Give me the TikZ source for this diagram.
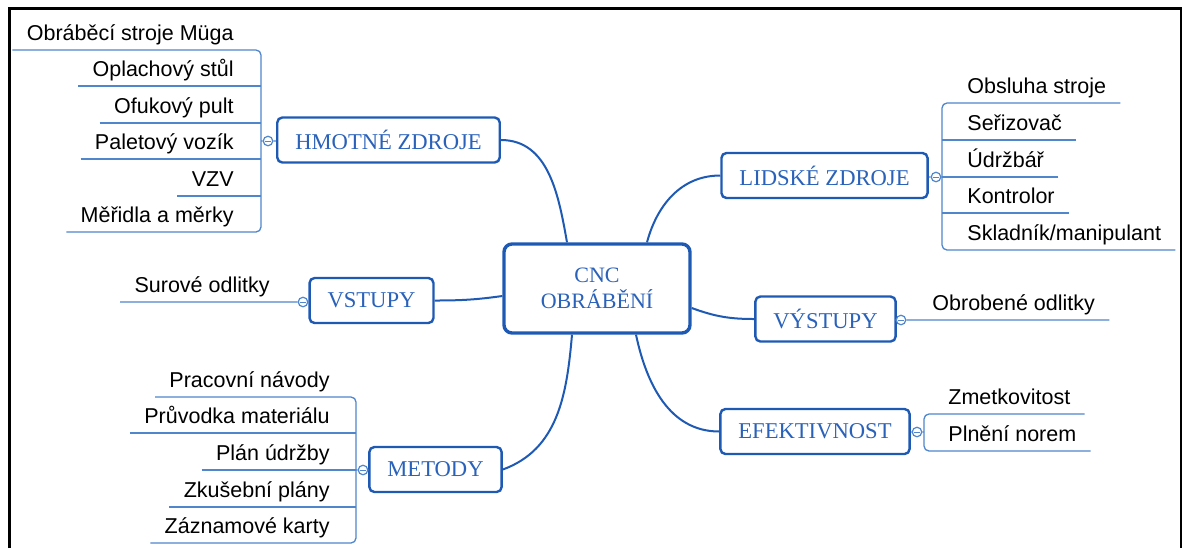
\documentclass[tikz,border=0pt]{standalone}
\usepackage{fontspec}
\setmainfont{Liberation Serif}
\newfontfamily\itemfont{Liberation Sans}
\usepackage{tikz}
\usepackage{xcolor}
\usetikzlibrary{positioning,calc}
\definecolor{MapBlue}{HTML}{1E5AB4}
\definecolor{MapText}{HTML}{2A62BA}
\definecolor{MapLine}{HTML}{4F86CC}
\tikzset{
    % Central topic style
    centernode/.style={
        draw=MapBlue,
        fill=white,
        line width=1.7pt,
        rounded corners=4pt,
        minimum width=93pt,
        minimum height=44.5pt,
        align=center,
        text=MapText,
        font=\fontsize{11}{13}\selectfont
    },
    % Main topic style
    topicnode/.style={
        draw=MapBlue,
        fill=white,
        line width=1.2pt,
        rounded corners=2.5pt,
        minimum height=22.5pt,
        inner xsep=9pt,
        text=MapText,
        font=\fontsize{11.3}{13}\selectfont
    },
    % Subtopic text, left side
    itemleft/.style={
        anchor=south east,
        inner xsep=7pt,
        inner ysep=4.5pt,
        text depth=0pt,
        font=\itemfont\fontsize{10.75}{13}\selectfont
    },
    % Subtopic text, right side
    itemright/.style={
        itemleft,
        anchor=south west
    },
    % Collapse mark
    foldmark/.style={
        circle,
        draw=MapLine,
        fill=white,
        line width=0.6pt,
        minimum size=4.75pt,
        inner sep=0pt,
        path picture={\draw[MapLine, line width=0.5pt]
            ([xshift=1pt]path picture bounding box.west) --
            ([xshift=-1pt]path picture bounding box.east);}
    },
    % Link from the centre
    mainlink/.style={
        draw=MapBlue,
        line width=1pt
    },
    % Subtopic line
    subline/.style={
        draw=MapLine,
        line width=0.65pt,
        rounded corners=2.5pt
    }
}

\begin{document}
\begin{tikzpicture}[x=0.5pt, y=-0.5pt]
    \useasboundingbox (0,0) rectangle (1183,548);
    % Frame
    \draw[line width=1.2pt] (9.5,548) -- (9.5,8.5) -- (1181,8.5) -- (1181,548);

    % Central and main topics
    \node[centernode] (cnc) at (597,288.5) {CNC\\OBRÁBĚNÍ};
    \node[topicnode] (hz) at (388.5,140) {HMOTNÉ ZDROJE};
    \node[topicnode] (lz) at (824.5,175.5) {LIDSKÉ ZDROJE};
    \node[topicnode] (vs) at (371.5,300.5) {VSTUPY};
    \node[topicnode] (vy) at (825.5,319) {VÝSTUPY};
    \node[topicnode] (me) at (435.5,469.5) {METODY};
    \node[topicnode] (ef) at (815,431.5) {EFEKTIVNOST};

    % Links from the centre
    \draw[mainlink] ([xshift=-15pt]cnc.north) to[out=100,in=0] (hz.east);
    \draw[mainlink] ([xshift=25pt]cnc.north) to[out=75,in=180] (lz.west);
    \draw[mainlink] ([yshift=-3.75pt]cnc.west) to[out=188,in=0] (vs.east);
    \draw[mainlink] ([yshift=-9.75pt]cnc.east) to[out=-20,in=180] (vy.west);
    \draw[mainlink] ([xshift=-12.5pt]cnc.south) to[out=-95,in=20] (me.east);
    \draw[mainlink] ([xshift=19.5pt]cnc.south) to[out=-78,in=180] (ef.west);

    % Hmotne zdroje
    \node[foldmark] (hzf) at (268,141) {};
    \coordinate (hzb) at (261,141);
    \node[itemleft] (hz1) at (248,50) {Obráběcí stroje Müga};
    \node[itemleft] (hz2) at (248,86) {Oplachový stůl};
    \node[itemleft] (hz3) at (248,123) {Ofukový pult};
    \node[itemleft] (hz4) at (248,159) {Paletový vozík};
    \node[itemleft] (hz5) at (248,196) {VZV};
    \node[itemleft] (hz6) at (248,232) {Měřidla a měrky};
    \draw[subline] (hz1.south west) -- (hz1.south west -| hzb) -- (hz6.south west -| hzb) -- (hz6.south west);
    \foreach \i in {2,...,5}
        \draw[subline] (hz\i.south west) -- (hz\i.south west -| hzb);
    \draw[subline] (hzb) -- (hzf) -- (hz);

    % Lidske zdroje
    \node[foldmark] (lzf) at (936,177) {};
    \coordinate (lzb) at (942,177);
    \node[itemright] (lz1) at (953,103) {Obsluha stroje};
    \node[itemright] (lz2) at (953,140) {Seřizovač};
    \node[itemright] (lz3) at (953,177) {Údržbář};
    \node[itemright] (lz4) at (953,213) {Kontrolor};
    \node[itemright] (lz5) at (953,250) {Skladník/manipulant};
    \draw[subline] (lz1.south east) -- (lz1.south east -| lzb) -- (lz5.south east -| lzb) -- (lz5.south east);
    \foreach \i in {2,...,4}
        \draw[subline] (lz\i.south east) -- (lz\i.south east -| lzb);
    \draw[subline] (lz) -- (lzf) -- (lzb);

    % Vstupy
    \node[foldmark] (vsf) at (303,302) {};
    \node[itemleft] (vs1) at (284,302) {Surové odlitky};
    \draw[subline] (vs1.south west) -- (vsf) -- (vs);

    % Vystupy
    \node[foldmark] (vyf) at (901,320) {};
    \node[itemright] (vy1) at (918,320) {Obrobené odlitky};
    \draw[subline] (vy) -- (vyf) -- (vy1.south east);

    % Metody
    \node[foldmark] (mef) at (363,470) {};
    \coordinate (meb) at (356,470);
    \node[itemleft] (me1) at (344,397) {Pracovní návody};
    \node[itemleft] (me2) at (344,433) {Průvodka materiálu};
    \node[itemleft] (me3) at (344,470) {Plán údržby};
    \node[itemleft] (me4) at (344,507) {Zkušební plány};
    \node[itemleft] (me5) at (344,543) {Záznamové karty};
    \draw[subline] (me1.south west) -- (me1.south west -| meb) -- (me5.south west -| meb) -- (me5.south west);
    \foreach \i in {2,...,4}
        \draw[subline] (me\i.south west) -- (me\i.south west -| meb);
    \draw[subline] (meb) -- (mef) -- (me);

    % Efektivnost
    \node[foldmark] (eff) at (917,432) {};
    \coordinate (efb) at (924,432);
    \node[itemright] (ef1) at (934,414) {Zmetkovitost};
    \node[itemright] (ef2) at (934,451) {Plnění norem};
    \draw[subline] (ef1.south east) -- (ef1.south east -| efb) -- (ef2.south east -| efb) -- (ef2.south east);
    \draw[subline] (ef) -- (eff) -- (efb);
\end{tikzpicture}
\end{document}
